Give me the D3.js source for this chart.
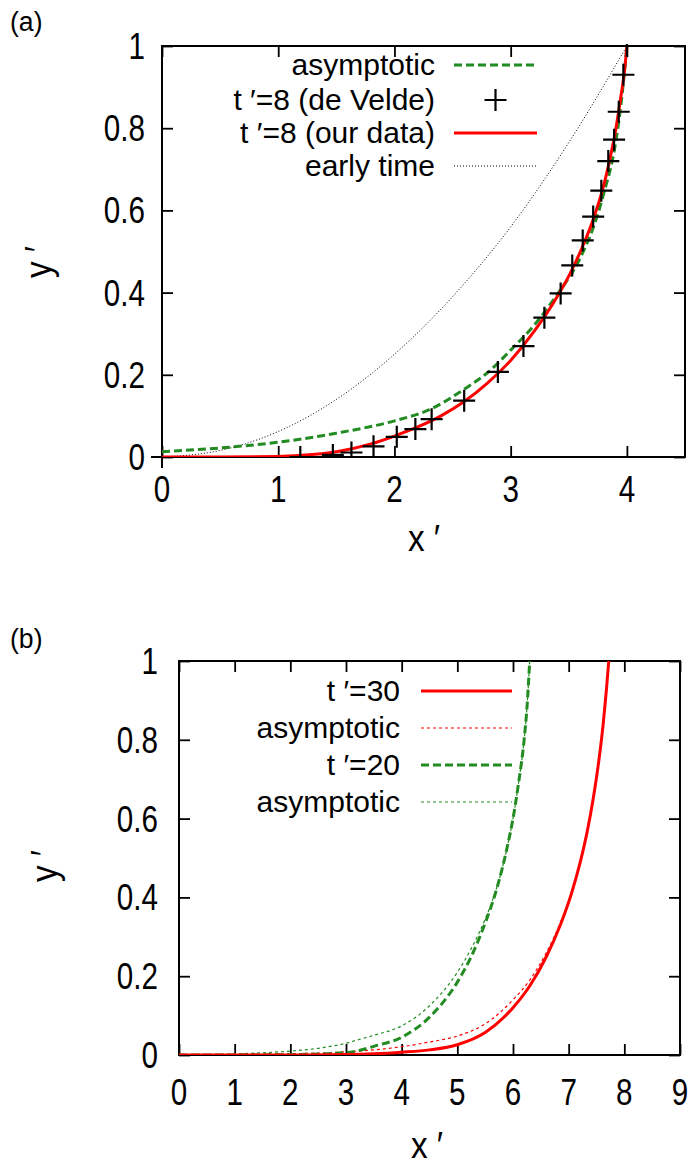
<!DOCTYPE html>
<html>
<head>
<meta charset="utf-8">
<script src="https://cdn.jsdelivr.net/npm/d3@7"></script>
<style>
  body { margin: 0; background: #fff; }
  svg { display: block; }
  text { font-family: "Liberation Sans", Arial, sans-serif; fill: #000; }
</style>
</head>
<body>
<svg id="chart" width="692" height="1165"></svg>
<script>
// ---- data ----
// panel (a)
const aXTicks = [0, 1, 2, 3, 4];
const aYTicks = [0, 0.2, 0.4, 0.6, 0.8, 1];
const aYTickLabels = ["0", "0.2", "0.4", "0.6", "0.8", "1"];

// de Velde points, t'=8
const veldeX = [1.19, 1.47, 1.63, 1.82, 2.02, 2.18, 2.32, 2.60, 2.89, 3.11, 3.29, 3.43, 3.53, 3.62, 3.71, 3.78, 3.84, 3.89, 3.93, 3.97, 4.0];
const veldeY = [0.0, 0.005, 0.011, 0.026, 0.049, 0.068, 0.092, 0.137, 0.207, 0.27, 0.339, 0.398, 0.466, 0.527, 0.585, 0.648, 0.72, 0.772, 0.84, 0.93, 1.0];

// our data, t'=8
const ourX = [0, 0.5, 1.0, 1.2, 1.5, 1.8, 2.0, 2.2, 2.4, 2.6, 2.8, 3.0, 3.2, 3.4, 3.5, 3.6, 3.7, 3.8, 3.85, 3.9, 3.95, 3.98, 4.0];
const ourY = [0, 0, 0.001, 0.004, 0.013, 0.032, 0.051, 0.073, 0.10, 0.135, 0.18, 0.235, 0.305, 0.39, 0.44, 0.50, 0.57, 0.66, 0.72, 0.79, 0.88, 0.94, 1.0];

// asymptotic, panel (a)
const asymAX = [0, 0.5, 1.0, 1.5, 2.0, 2.3, 2.6, 2.8, 3.0, 3.2, 3.4, 3.6, 3.7, 3.8, 3.9, 3.95, 4.0];
const asymAY = [0.013, 0.022, 0.036, 0.058, 0.088, 0.115, 0.165, 0.205, 0.26, 0.32, 0.395, 0.485, 0.55, 0.64, 0.76, 0.86, 1.0];

// early time
const earlyX = [0, 0.5, 1.0, 1.5, 2.0, 2.5, 3.0, 3.5, 4.0];
const earlyY = [0, 0.016, 0.062, 0.14, 0.25, 0.39, 0.56, 0.765, 1.0];

// panel (b)
const bXTicks = [0, 1, 2, 3, 4, 5, 6, 7, 8, 9];
const bYTicks = [0, 0.2, 0.4, 0.6, 0.8, 1];
const bYTickLabels = ["0", "0.2", "0.4", "0.6", "0.8", "1"];

const t30X = [0, 2, 3, 3.5, 4, 4.5, 5, 5.5, 6, 6.3, 6.6, 6.85, 7.05, 7.2, 7.33, 7.44, 7.54, 7.62, 7.68, 7.72];
const t30Y = [0, 0, 0.001, 0.003, 0.007, 0.013, 0.026, 0.057, 0.12, 0.175, 0.25, 0.33, 0.41, 0.485, 0.565, 0.65, 0.745, 0.84, 0.93, 1.0];

const asym30X = [0, 1, 2, 3, 3.5, 4, 4.5, 5, 5.5, 6, 6.3, 6.6, 6.85, 7.05, 7.2, 7.33, 7.44, 7.54, 7.62, 7.68, 7.72];
const asym30Y = [0, 0.001, 0.003, 0.008, 0.013, 0.021, 0.033, 0.048, 0.079, 0.14, 0.19, 0.26, 0.335, 0.41, 0.485, 0.565, 0.65, 0.745, 0.84, 0.93, 1.0];

const t20X = [0, 2, 3, 3.25, 3.5, 4, 4.5, 5, 5.25, 5.5, 5.65, 5.8, 5.9, 6.0, 6.1, 6.2, 6.25, 6.3];
const t20Y = [0, 0.001, 0.006, 0.012, 0.022, 0.045, 0.096, 0.185, 0.25, 0.335, 0.395, 0.47, 0.53, 0.6, 0.69, 0.8, 0.88, 1.0];

const asym20X = [0, 1, 2, 2.5, 3, 3.25, 3.5, 4, 4.5, 5, 5.25, 5.5, 5.65, 5.8, 5.9, 6.0, 6.1, 6.2, 6.25, 6.3];
const asym20Y = [0.001, 0.003, 0.01, 0.017, 0.03, 0.04, 0.05, 0.074, 0.125, 0.21, 0.27, 0.345, 0.4, 0.47, 0.53, 0.6, 0.69, 0.8, 0.88, 1.0];

const RED = "#ff0000";
const GREEN = "#228b22";

const svg = d3.select("#chart");
const zip = (xs, ys) => xs.map((x, i) => [x, ys[i]]);

// text squeezed horizontally, like the gnuplot output
function label(g, x, y, str, opts) {
  const o = Object.assign({ size: 37, sx: 0.8, anchor: "middle", rotate: 0 }, opts || {});
  const t = g.append("g")
    .attr("transform", `translate(${x},${y}) rotate(${o.rotate}) scale(${o.sx},1)`)
    .append("text")
    .attr("text-anchor", o.anchor)
    .attr("font-size", o.size)
    .text(str);
  return t;
}

function drawPanel(p) {
  const g = svg.append("g");
  const x = d3.scaleLinear().domain(p.xDomain).range([p.left, p.right]);
  const y = d3.scaleLinear().domain([0, 1]).range([p.bottom, p.top]);
  const clipId = "clip-" + p.name;

  g.append("clipPath").attr("id", clipId)
    .append("rect")
    .attr("x", p.left).attr("y", p.top - 2)
    .attr("width", p.right - p.left).attr("height", p.bottom - p.top + 2);

  // inward ticks on all four sides
  const tl = 11;
  const axes = [
    [d3.axisBottom(x).tickValues(p.xTicks), `translate(0,${p.bottom})`],
    [d3.axisTop(x).tickValues(p.xTicks), `translate(0,${p.top})`],
    [d3.axisLeft(y).tickValues(p.yTicks), `translate(${p.left},0)`],
    [d3.axisRight(y).tickValues(p.yTicks), `translate(${p.right},0)`]
  ];
  axes.forEach(([ax, tr]) => {
    const a = g.append("g").attr("transform", tr)
      .call(ax.tickSize(-tl).tickFormat(""));
    a.select(".domain").remove();
    a.selectAll("line").attr("stroke", "#000").attr("stroke-width", 1.8);
  });

  // frame
  g.append("rect")
    .attr("x", p.left).attr("y", p.top)
    .attr("width", p.right - p.left).attr("height", p.bottom - p.top)
    .attr("fill", "none").attr("stroke", "#000").attr("stroke-width", 2);

  if (p.zeroStubs) {
    g.append("line").attr("x1", p.left - 11).attr("x2", p.left)
      .attr("y1", y(0)).attr("y2", y(0)).attr("stroke", "#000").attr("stroke-width", 2);
    g.append("line").attr("x1", x(0)).attr("x2", x(0))
      .attr("y1", p.bottom).attr("y2", p.bottom + 11).attr("stroke", "#000").attr("stroke-width", 2);
  }

  // tick labels
  p.xTicks.forEach(v => label(g, x(v), p.bottom + p.xLabelDy, String(v)));
  p.yTicks.forEach((v, i) => label(g, p.yLabelX, y(v) + 13, p.yTickLabels[i], { anchor: "end" }));

  // axis titles
  label(g, p.xTitle[0], p.xTitle[1], "x \u2032", { size: 37, sx: 0.9 });
  label(g, p.yTitle[0], p.yTitle[1], "y \u2032", { size: 37, sx: 0.9, rotate: -90 });
  label(g, p.tag[0], p.tag[1], p.tagText, { size: 28, sx: 0.95, anchor: "start" });

  const plot = g.append("g").attr("clip-path", `url(#${clipId})`);
  const line = d3.line().x(d => x(d[0])).y(d => y(d[1])).curve(d3.curveMonotoneX);

  p.series.forEach(s => {
    if (s.pts) {
      plot.selectAll(null).data(s.pts).enter().append("path")
        .attr("transform", d => `translate(${x(d[0])},${y(d[1])})`)
        .attr("d", "M-11,0H11M0,-11V11")
        .attr("stroke", "#000").attr("stroke-width", 2.2).attr("fill", "none");
    } else {
      plot.append("path").datum(s.data)
        .attr("d", line)
        .attr("fill", "none")
        .attr("stroke", s.color)
        .attr("stroke-width", s.width)
        .attr("stroke-dasharray", s.dash || null);
    }
  });

  // legend
  p.series.slice().sort((a, b) => a.row - b.row).forEach(s => {
    const ly = p.legend.rows[s.row];
    label(g, p.legend.textRight, ly + 10, s.name, { size: 30, sx: 1, anchor: "end" });
    if (s.pts) {
      g.append("path")
        .attr("transform", `translate(${(p.legend.x1 + p.legend.x2) / 2},${ly})`)
        .attr("d", "M-11,0H11M0,-11V11")
        .attr("stroke", "#000").attr("stroke-width", 2.2);
    } else {
      g.append("line")
        .attr("x1", p.legend.x1).attr("x2", p.legend.x2)
        .attr("y1", ly).attr("y2", ly)
        .attr("stroke", s.color).attr("stroke-width", s.width)
        .attr("stroke-dasharray", s.dash || null);
    }
  });
}

drawPanel({
  name: "a",
  xDomain: [0, 4.5], left: 162, right: 685, top: 46, bottom: 457,
  xTicks: aXTicks, yTicks: aYTicks, yTickLabels: aYTickLabels,
  xLabelDy: 45, yLabelX: 145,
  xTitle: [424, 551], yTitle: [51, 262], tag: [10, 31], tagText: "(a)",
  zeroStubs: true,
  legend: { rows: [65, 100, 133, 166], textRight: 435, x1: 454, x2: 537 },
  series: [
    { name: "early time", row: 3, data: zip(earlyX, earlyY), color: "#000", width: 1, dash: "1,2" },
    { name: "asymptotic", row: 0, data: zip(asymAX, asymAY), color: GREEN, width: 3, dash: "8,4" },
    { name: "t \u2032=8 (our data)", row: 2, data: zip(ourX, ourY), color: RED, width: 3 },
    { name: "t \u2032=8 (de Velde)", row: 1, pts: zip(veldeX, veldeY) }
  ]
});

drawPanel({
  name: "b",
  xDomain: [0, 9], left: 179, right: 680, top: 661, bottom: 1055,
  xTicks: bXTicks, yTicks: bYTicks, yTickLabels: bYTickLabels,
  xLabelDy: 50, yLabelX: 158,
  xTitle: [427, 1158], yTitle: [57, 866], tag: [10, 648], tagText: "(b)",
  zeroStubs: false,
  legend: { rows: [691, 728, 765, 802], textRight: 400, x1: 421, x2: 512 },
  series: [
    { name: "asymptotic", row: 3, data: zip(asym20X, asym20Y), color: GREEN, width: 1.2, dash: "3,3" },
    { name: "asymptotic", row: 1, data: zip(asym30X, asym30Y), color: RED, width: 1.2, dash: "3,3" },
    { name: "t \u2032=20", row: 2, data: zip(t20X, t20Y), color: GREEN, width: 3, dash: "8,4" },
    { name: "t \u2032=30", row: 0, data: zip(t30X, t30Y), color: RED, width: 3 }
  ]
});
</script>
</body>
</html>
